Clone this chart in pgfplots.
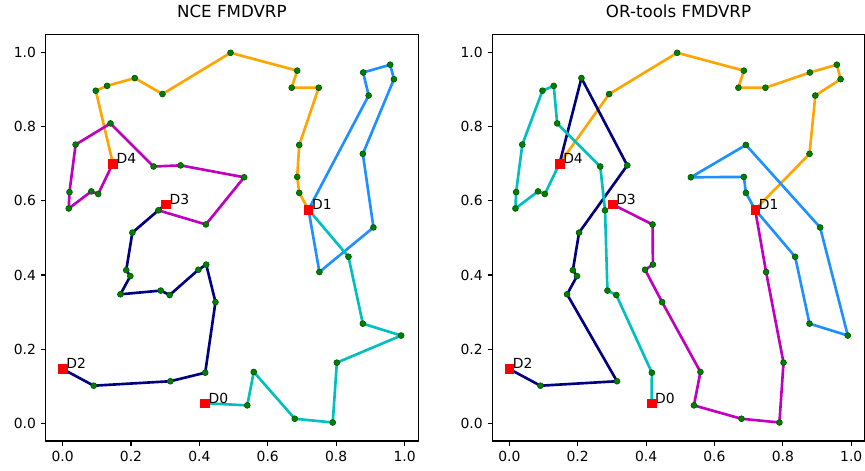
\documentclass[border=0pt]{standalone}
\usepackage{pgfplots}
\pgfplotsset{compat=1.18}
\usepackage{fontspec}
\setmainfont{DejaVu Sans}
\definecolor{cOrange}{HTML}{FFA500}
\definecolor{cBlue}{HTML}{1E90FF}
\definecolor{cCyan}{HTML}{00BFBF}
\definecolor{cMag}{HTML}{BF00BF}
\definecolor{cNavy}{HTML}{000080}
\definecolor{cGreen}{HTML}{008000}
\definecolor{cGreenE}{HTML}{005A00}
\definecolor{cRed}{HTML}{FF0000}

\pgfplotsset{
  vrp/.style={
    scale only axis, width=268.1pt, height=292.8pt, anchor=south west,
    xmin=-0.0495, xmax=1.0395, ymin=-0.0468, ymax=1.0478,
    xtick={0,0.2,0.4,0.6,0.8,1.0}, ytick={0,0.2,0.4,0.6,0.8,1.0},
    tick pos=left, tick align=outside, major tick length=3.5pt,
    every tick/.style={black, line width=0.8pt},
    axis line style={black, line width=0.8pt},
    /pgf/number format/.cd, fixed, fixed zerofill, precision=1, assume math mode=true,
    /pgfplots/.cd,
    tick label style={font=\fontsize{10}{12}\selectfont},
    title style={at={(0.5,1)}, anchor=base, yshift=6pt, inner sep=0pt, font=\fontsize{12}{14}\selectfont},
    clip=false,
  },
  route/.style={line width=1.9pt, mark=none, line join=round},
}

\pgfplotstableread{
x y
0.097 0.896
0.130 0.909
0.211 0.930
0.292 0.887
0.491 0.998
0.686 0.950
0.670 0.904
0.749 0.904
0.692 0.750
0.686 0.664
0.692 0.621
0.879 0.945
0.958 0.966
0.969 0.927
0.895 0.883
0.878 0.726
0.909 0.528
0.751 0.408
0.836 0.449
0.878 0.269
0.990 0.237
0.802 0.164
0.790 0.003
0.679 0.013
0.559 0.139
0.540 0.049
0.091 0.102
0.315 0.114
0.417 0.137
0.447 0.327
0.420 0.428
0.397 0.414
0.313 0.346
0.287 0.358
0.169 0.348
0.198 0.397
0.186 0.413
0.204 0.514
0.280 0.574
0.419 0.536
0.531 0.663
0.345 0.695
0.266 0.692
0.140 0.808
0.038 0.751
0.020 0.623
0.018 0.579
0.084 0.625
0.104 0.618
}\customers

\pgfplotstableread{
x y
0.416 0.055
0.719 0.576
0.000 0.147
0.302 0.590
0.147 0.700
}\depots

\newcommand{\depotlabels}{%
  \node[anchor=base west, inner sep=0pt, font=\fontsize{10}{12}\selectfont] at (axis cs:0.426,0.055) {D0};
  \node[anchor=base west, inner sep=0pt, font=\fontsize{10}{12}\selectfont] at (axis cs:0.729,0.576) {D1};
  \node[anchor=base west, inner sep=0pt, font=\fontsize{10}{12}\selectfont] at (axis cs:0.010,0.147) {D2};
  \node[anchor=base west, inner sep=0pt, font=\fontsize{10}{12}\selectfont] at (axis cs:0.312,0.590) {D3};
  \node[anchor=base west, inner sep=0pt, font=\fontsize{10}{12}\selectfont] at (axis cs:0.157,0.700) {D4};
}
\newcommand{\basepoints}{%
  \addplot[only marks, mark=square*, mark size=3.1pt, color=cRed] table {\depots};
  \addplot[only marks, mark=*, mark size=2.1pt, mark options={fill=cGreen, draw=cGreenE, line width=0.5pt}] table {\customers};
}

\begin{document}
\begin{tikzpicture}
\path[use as bounding box] (0,0) rectangle (622.8pt,338.4pt);

\begin{axis}[vrp, at={(32.9pt,20.9pt)}, title={NCE FMDVRP}]
\basepoints
\addplot[route, color=cOrange] coordinates {(0.147,0.700) (0.097,0.896) (0.130,0.909) (0.211,0.930) (0.292,0.887) (0.491,0.998) (0.686,0.950) (0.670,0.904) (0.749,0.904) (0.692,0.750) (0.686,0.664) (0.692,0.621) (0.719,0.576)};
\addplot[route, color=cBlue] coordinates {(0.719,0.576) (0.895,0.883) (0.879,0.945) (0.958,0.966) (0.969,0.927) (0.878,0.726) (0.909,0.528) (0.751,0.408) (0.719,0.576)};
\addplot[route, color=cCyan] coordinates {(0.719,0.576) (0.836,0.449) (0.878,0.269) (0.990,0.237) (0.802,0.164) (0.790,0.003) (0.679,0.013) (0.559,0.139) (0.540,0.049) (0.416,0.055)};
\addplot[route, color=cMag] coordinates {(0.302,0.590) (0.280,0.574) (0.419,0.536) (0.531,0.663) (0.345,0.695) (0.266,0.692) (0.140,0.808) (0.038,0.751) (0.020,0.623) (0.018,0.579) (0.084,0.625) (0.104,0.618) (0.147,0.700)};
\addplot[route, color=cNavy] coordinates {(0.000,0.147) (0.091,0.102) (0.315,0.114) (0.417,0.137) (0.447,0.327) (0.420,0.428) (0.397,0.414) (0.313,0.346) (0.287,0.358) (0.169,0.348) (0.198,0.397) (0.186,0.413) (0.204,0.514) (0.280,0.574) (0.302,0.590)};
\depotlabels
\end{axis}

\begin{axis}[vrp, at={(354.5pt,20.9pt)}, title={OR-tools FMDVRP}]
\basepoints
\addplot[route, color=cOrange] coordinates {(0.147,0.700) (0.292,0.887) (0.491,0.998) (0.686,0.950) (0.670,0.904) (0.749,0.904) (0.879,0.945) (0.958,0.966) (0.969,0.927) (0.895,0.883) (0.878,0.726) (0.719,0.576)};
\addplot[route, color=cBlue] coordinates {(0.719,0.576) (0.692,0.621) (0.686,0.664) (0.531,0.663) (0.692,0.750) (0.909,0.528) (0.990,0.237) (0.878,0.269) (0.836,0.449) (0.719,0.576)};
\addplot[route, color=cMag] coordinates {(0.719,0.576) (0.751,0.408) (0.802,0.164) (0.790,0.003) (0.679,0.013) (0.540,0.049) (0.559,0.139) (0.447,0.327) (0.397,0.414) (0.420,0.428) (0.419,0.536) (0.302,0.590)};
\addplot[route, color=cNavy] coordinates {(0.000,0.147) (0.091,0.102) (0.315,0.114) (0.169,0.348) (0.198,0.397) (0.186,0.413) (0.204,0.514) (0.345,0.695) (0.211,0.930) (0.147,0.700)};
\addplot[route, color=cCyan] coordinates {(0.416,0.055) (0.417,0.137) (0.313,0.346) (0.287,0.358) (0.280,0.574) (0.266,0.692) (0.140,0.808) (0.130,0.909) (0.097,0.896) (0.038,0.751) (0.020,0.623) (0.018,0.579) (0.084,0.625) (0.104,0.618) (0.147,0.700)};
\depotlabels
\end{axis}
\end{tikzpicture}
\end{document}
